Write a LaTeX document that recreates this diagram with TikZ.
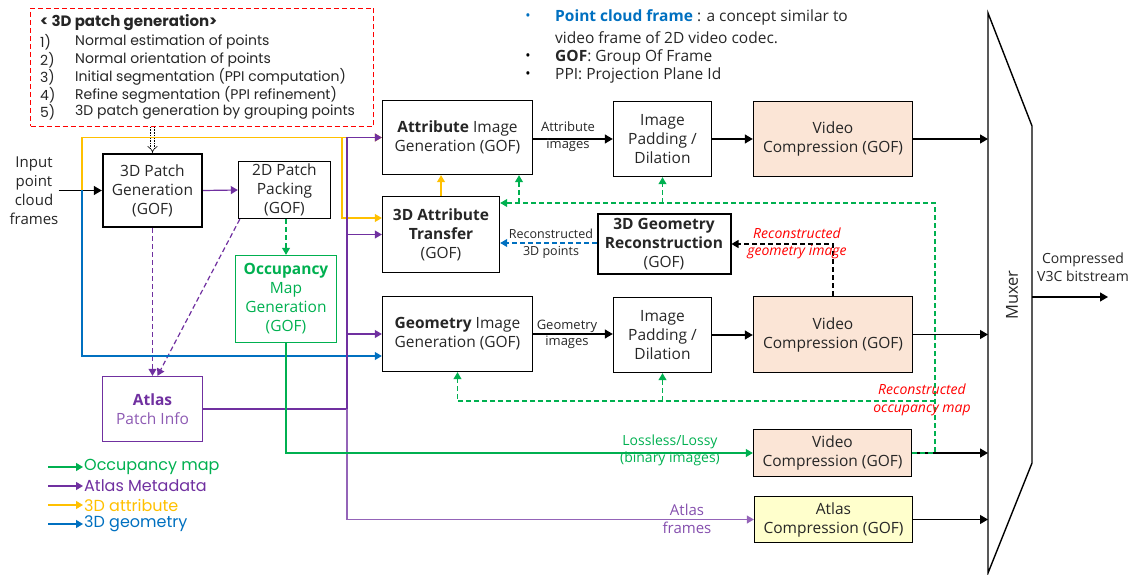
\documentclass[tikz,border=0pt]{standalone}
\usepackage{fontspec}
\setmainfont{Open Sans}
\newfontfamily\pop{Poppins}
\usetikzlibrary{arrows.meta,calc}
\definecolor{cgreen}{HTML}{00B050}
\definecolor{cpurple}{HTML}{7030A0}
\definecolor{cyellow}{HTML}{FFC000}
\definecolor{cblue}{HTML}{0070C0}
\definecolor{cred}{HTML}{FF0000}
\definecolor{ctan}{HTML}{FBE5D6}
\definecolor{clemon}{HTML}{FFFFCC}
\definecolor{ctext}{HTML}{262626}
\begin{document}
\begin{tikzpicture}[x=1pt,y=-1pt,
  blk/.style={draw, line width=1.4pt, inner sep=0pt, align=center, text=ctext,
              font=\fontsize{15.5}{19}\selectfont},
  lbl/.style={inner sep=0pt, align=center, text=ctext, font=\fontsize{12.5}{16.5}\selectfont},
  rlbl/.style={inner sep=0pt, align=center, text=cred, font=\itshape\fontsize{14}{17.5}\selectfont},
  tip/.style={-{Triangle[length=8pt,width=9pt]}},
  ctip/.style={-{Triangle[length=7pt,width=8pt]}},
  dsh/.style={dash pattern=on 5pt off 3pt},
  bl/.style={line width=1.2pt, tip},
  gl/.style={cgreen, line width=1.2pt, ctip},
  pl/.style={cpurple, line width=1.2pt, ctip},
  yl/.style={cyellow, line width=1.2pt, ctip},
  bll/.style={cblue, line width=1.2pt, ctip},
  pt/.style={inner sep=0pt, anchor=west, text=ctext, font=\pop\fontsize{14}{16}\selectfont},
  lg/.style={inner sep=1pt, anchor=west, font=\pop\fontsize{16}{18}\selectfont},
  bul/.style={inner sep=0pt, anchor=west, font=\fontsize{15.5}{18}\selectfont, text=ctext},
]
\useasboundingbox (0,0) rectangle (1136,575);

% ---------- 3D patch generation description box ----------
\node[draw=cred, dsh, line width=1pt, minimum width=343pt, minimum height=118pt,
      anchor=north west, inner sep=0pt] (rb) at (30,8) {};
\node[pt, font=\pop\bfseries\fontsize{15}{17}\selectfont] (rt) at (40,23) {< 3D patch generation>};
\node[pt] (n1) at (40,42) {1)}; \node[pt] (t1) at (75,42) {Normal estimation of points};
\node[pt] (n2) at (40,60) {2)}; \node[pt] (t2) at (75,60) {Normal orientation of points};
\node[pt] (n3) at (40,77) {3)}; \node[pt] (t3) at (75,77) {Initial segmentation (PPI computation)};
\node[pt] (n4) at (40,95) {4)}; \node[pt] (t4) at (75,95) {Refine segmentation (PPI refinement)};
\node[pt] (n5) at (40,112) {5)}; \node[pt] (t5) at (75,112) {3D patch generation by grouping points};

% ---------- bullets ----------
\node[inner sep=0pt, text=cblue, font=\fontsize{14}{17}\selectfont] (b1) at (528,17) {•};
\node[bul] (bt1) at (555,17)
  {\textcolor{cblue}{\textbf{Point cloud frame}} : a concept similar to};
\node[bul] (bt1b) at (555,38) {video frame of 2D video codec.};
\node[inner sep=0pt, font=\fontsize{14}{17}\selectfont] (b2) at (528,57) {•};
\node[bul] (bt2) at (555,57) {\textbf{GOF}: Group Of Frame};
\node[inner sep=0pt, font=\fontsize{14}{17}\selectfont] (b3) at (528,75) {•};
\node[bul] (bt3) at (555,75) {PPI: Projection Plane Id};

% ---------- input ----------
\node[inner sep=0pt, align=center, text=ctext, font=\fontsize{15}{19}\selectfont] (in) at (34,190.5)
  {Input\\point\\cloud\\frames};

% ---------- boxes ----------
\node[blk, line width=2.4pt, minimum width=99pt, minimum height=73pt] (pg) at (152.5,190.5)
  {3D Patch\\Generation\\(GOF)};
\node[blk, minimum width=92pt, minimum height=57pt] (pp) at (284.5,190)
  {2D Patch\\Packing\\(GOF)};
\node[blk, draw=cgreen, text=cgreen, minimum width=101pt, minimum height=87pt] (occ) at (286,299)
  {\textbf{Occupancy}\\Map\\Generation\\(GOF)};
\node[blk, draw=cpurple, text=cpurple, minimum width=100pt, minimum height=65pt] (atlas) at (152.5,409)
  {\textbf{Atlas}\\\textcolor{cpurple!80}{Patch Info}};
\node[blk, minimum width=150pt, minimum height=74pt] (aig) at (457.5,137.5)
  {\textbf{Attribute} Image\\Generation (GOF)};
\node[blk, minimum width=98pt, minimum height=75pt] (pad1) at (662.5,139)
  {Image\\Padding /\\Dilation};
\node[blk, fill=ctan, minimum width=159pt, minimum height=75pt] (vc1) at (833,139)
  {Video\\Compression (GOF)};
\node[blk, minimum width=117pt, minimum height=76pt] (at) at (441,234.5)
  {\textbf{3D Attribute}\\\textbf{Transfer}\\(GOF)};
\node[blk, line width=2pt, minimum width=133pt, minimum height=59pt] (gr) at (664,244)
  {\textbf{3D Geometry}\\\textbf{Reconstruction}\\(GOF)};
\node[blk, minimum width=150pt, minimum height=75pt] (gig) at (457.5,334)
  {\textbf{Geometry} Image\\Generation (GOF)};
\node[blk, minimum width=98pt, minimum height=75pt] (pad2) at (662.5,335)
  {Image\\Padding /\\Dilation};
\node[blk, fill=ctan, minimum width=159pt, minimum height=76pt] (vc2) at (833,334.5)
  {Video\\Compression (GOF)};
\node[blk, fill=ctan, minimum width=158pt, minimum height=47pt] (vc3) at (832.5,453)
  {Video\\Compression (GOF)};
\node[blk, fill=clemon, minimum width=158pt, minimum height=46pt] (ac) at (833.5,519.5)
  {Atlas\\Compression (GOF)};

% ---------- muxer ----------
\coordinate (m1) at (988,13);
\coordinate (m2) at (1032,126);
\coordinate (m3) at (1032,463);
\coordinate (m4) at (988,573);
\draw[line width=1.4pt] (m1) -- (m2) -- (m3) -- (m4) -- cycle;
\node[rotate=90, inner sep=0pt, text=ctext, font=\fontsize{16.5}{19}\selectfont] (mux) at (1012,295) {Muxer};
\coordinate (mo) at (1032,297);
\coordinate (out) at (1108,297);
\draw[bl] (mo) -- (out);
\node[lbl, font=\fontsize{14}{18}\selectfont] (outl) at (1083,267) {Compressed\\V3C bitstream};

% ---------- black data flow ----------
\draw[bl] (in.east |- pg.west) -- (pg.west);
\draw[bl] (aig.east |- pad1.west) -- (pad1.west);
\node[lbl, font=\fontsize{13}{16.5}\selectfont] (ail) at (568,136.5) {Attribute\\images};
\draw[bl] (pad1.east) -- (vc1.west);
\draw[bl] (vc1.east) -- (vc1.east -| m1);
\draw[bl] (gig.east) -- (gig.east -| pad2.west);
\node[lbl, font=\fontsize{13}{16.5}\selectfont] (gil) at (567,334.5) {Geometry\\images};
\draw[bl] (pad2.east) -- (pad2.east -| vc2.west);
\draw[bl] (vc2.east) -- (vc2.east -| m1);
\draw[bl] (vc3.east) -- (vc3.east -| m1);
\draw[bl] (ac.east) -- (ac.east -| m1);

% ---------- 3D patch gen description link ----------
\draw[double, double distance=3pt, line width=0.6pt, densely dotted, -{Implies}]
  (rb.south -| pg.north) -- (pg.north);

% ---------- purple ----------
\draw[pl] (pg.east) -- (pp.west);
\draw[cpurple, line width=1.2pt, dsh, ctip] (pg.south) -- (atlas.north);
\draw[cpurple, line width=1.2pt, dsh, ctip] ($(pp.south west)+(2,0)$) -- ($(atlas.north)+(5,0)$);

% ---------- yellow ----------
\coordinate (yj) at (82,190.5);
\coordinate (yv) at (342,137.5);
\draw[yl] (yj) |- (aig.west);
\draw[yl] (yv) |- ($(at.west)+(0,-16.5)$);
\draw[yl] (at.north) -- (at.north |- aig.south);

% ---------- blue ----------
\draw[bll] (yj) |- ($(gig.west)+(0,22)$);
\draw[cblue, line width=1.2pt, dsh, ctip] ($(gr.west)+(0,-1)$) -- ($(gr.west -| at.east)+(0,-1)$);
\node[lbl] (rpl) at (551,244) {Reconstructed\\3D points};

% ---------- purple trunk ----------
\coordinate (pv) at (347,137.5);
\coordinate (pj) at (347,409);
\draw[cpurple, line width=1.6pt] (atlas.east) -- (pj);
\draw[cpurple, line width=1.6pt] (pj) -- (pv);
\draw[pl] (pv) -- (aig.west);
\draw[pl] (pv |- at.west) -- (at.west);
\draw[pl] (pv |- gig.west) -- (gig.west);
\draw[pl, draw=cpurple!75] (pj) |- (ac.west);
\node[inner sep=0pt, align=center, text=cpurple!85, font=\fontsize{15}{18}\selectfont] (afl) at (687,519) {Atlas\\frames};

% ---------- green ----------
\draw[cgreen, line width=1.2pt, dsh, ctip] (pp.south -| occ.north) -- (occ.north);
\draw[gl] (occ.south) |- (vc3.west);
\node[inner sep=0pt, align=center, text=cgreen, font=\fontsize{14}{17}\selectfont] (lll) at (670,450.5)
  {Lossless/Lossy\\(binary images)};

\coordinate (gc) at (935,453);
\coordinate (gt) at (935,203);
\coordinate (gm) at (935,401);
\draw[cgreen, line width=1.1pt, dsh, ctip] (vc3.east) -- (gc) -- (gt) -- (gt -| at.east);
\draw[cgreen, line width=1.1pt, dsh, ctip] (gt -| pad1.south) -- (pad1.south);
\draw[cgreen, line width=1.1pt, dsh, ctip] ($(gt -| aig.south)+(61.5,0)$) -- ($(aig.south)+(61.5,0)$);
\draw[cgreen, line width=1.1pt, dsh, ctip] (gm) -| (gig.south);
\draw[cgreen, line width=1.1pt, dsh, ctip] (gm -| pad2.south) -- (pad2.south);
\node[rlbl] (rol) at (922,400) {Reconstructed\\occupancy map};

% ---------- black dashed ----------
\draw[line width=1.1pt, dsh, ctip] (vc2.north) |- (gr.east);
\node[rlbl] (rgl) at (797,243.5) {Reconstructed\\geometry image};

% ---------- legend ----------
\coordinate (l1) at (48,467);
\coordinate (l2) at (48,486);
\coordinate (l3) at (48,505);
\coordinate (l4) at (48,524);
\node[lg, text=cgreen] (lt1) at (83,467) {Occupancy map};
\node[lg, text=cpurple] (lt2) at (83,486) {Atlas Metadata};
\node[lg, text=cyellow] (lt3) at (83,505) {3D attribute};
\node[lg, text=cblue] (lt4) at (83,524) {3D geometry};
\draw[gl] (l1) -- (lt1.west);
\draw[pl] (l2) -- (lt2.west);
\draw[yl] (l3) -- (lt3.west);
\draw[bll] (l4) -- (lt4.west);
\end{tikzpicture}
\end{document}
